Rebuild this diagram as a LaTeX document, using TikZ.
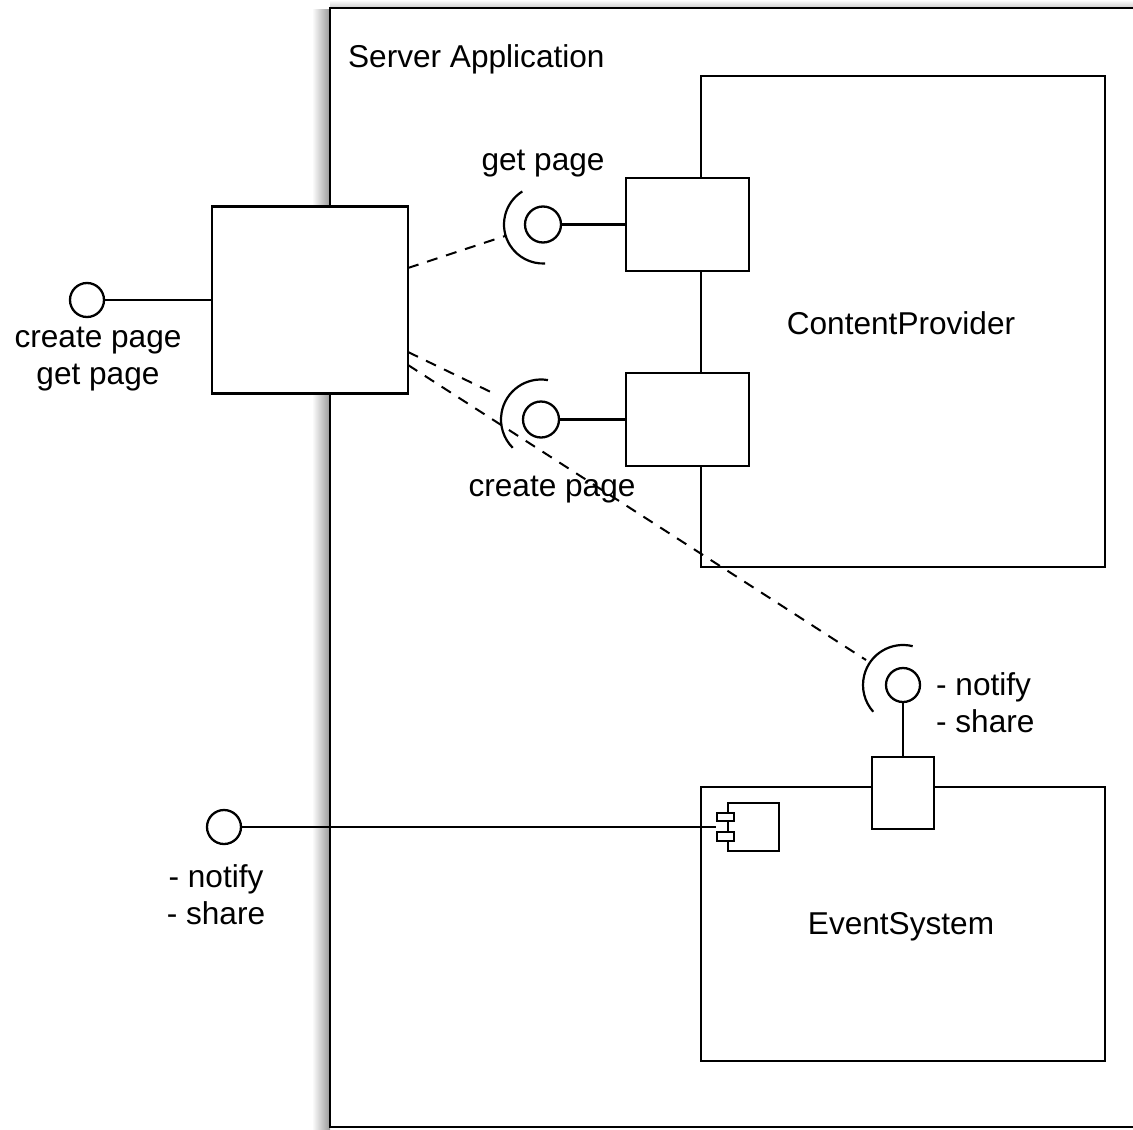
\documentclass[tikz,border=0pt]{standalone}
\usepackage{fontspec}
\setmainfont{Liberation Sans}
\begin{document}
\begin{tikzpicture}[x=0.5pt,y=-0.5pt,
  font=\fontsize{15.8}{18.5}\selectfont,
  line width=1.15pt,
  box/.style={draw, fill=white, rectangle, inner sep=0pt},
  lolly/.style={draw, fill=white, circle, inner sep=0pt, minimum size=17pt},
  lbl/.style={inner sep=0pt, align=center},
  dep/.style={line width=1pt, dash pattern=on 5.5pt off 4.5pt},
  sock/.style={line width=1.1pt}]
\useasboundingbox (0,0) rectangle (1133,1129);
\fill[white] (0,0) rectangle (1133,1129);
% shadow of the application frame
\shade[left color=white, right color=black!40] (312,10) rectangle (330,1129);
\shade[top color=white, bottom color=black!20] (330,0) rectangle (1133,8);
% application frame
\draw[line width=1.4pt] (1140,8) -- (330,8) -- (330,1127) -- (1140,1127);
\node[lbl, anchor=west] (title) at (347,59) {Server Application};

% left port box and lollipop
\node[box, minimum width=98pt, minimum height=93.5pt] (lbox) at (310,300) {};
\node[lolly] (lc) at (87,300) {};
\draw (lc.east) -- (lbox.west);
\node[lbl] (llab) at (98,359) {create page\\get page};

% ContentProvider
\node[box, minimum width=202pt, minimum height=245.5pt] (cp) at (903,321.5) {};
\node[lbl] (cplab) at (901,323) {ContentProvider};
\node[box, minimum width=61.5pt, minimum height=46.5pt] (p1) at (687.5,224.5) {};
\node[box, minimum width=61.5pt, minimum height=46.5pt] (p2) at (687.5,419.5) {};
\node[lolly, minimum size=18pt] (c1) at (543,224.5) {};
\node[lolly, minimum size=18pt] (c2) at (541,419.5) {};
\draw (c1.east) -- (p1.west);
\draw (c2.east) -- (p2.west);
\draw[sock] ([shift={(122:19.5pt)}]c1.center) arc[start angle=122, end angle=273, radius=19.5pt];
\draw[sock] ([shift={(80:20pt)}]c2.center) arc[start angle=80, end angle=225, radius=20pt];
\node[lbl] (gplab) at (543,164) {get page};
\node[lbl] (cplab2) at (552,490) {create page};

% EventSystem
\node[box, minimum width=202pt, minimum height=137pt] (es) at (903,924) {};
\node[lbl] (eslab) at (901,927) {EventSystem};
\node[box, minimum width=31pt, minimum height=36pt] (p3) at (903,793) {};
\node[lolly] (c3) at (903,685) {};
\draw (c3.south) -- (p3.north);
\draw[sock] ([shift={(76:20pt)}]c3.center) arc[start angle=76, end angle=222, radius=20pt];
\node[lbl, anchor=west, align=left] (nlab) at (935,703) {- notify\\- share};

% component icon
\node[box, minimum width=25.5pt, minimum height=24pt] (icon) at (753.5,827) {};
\node[box, minimum width=8.5pt, minimum height=4pt] (tab1) at (725.5,817) {};
\node[box, minimum width=8.5pt, minimum height=4.5pt] (tab2) at (725.5,836.5) {};
\node[lolly] (c4) at (224,827) {};
\draw (c4.east) -- (c4.east -| tab1.west);
\node[lbl] (n2lab) at (216,895) {- notify\\- share};

% dependencies
\coordinate (d1s) at (408,268);
\coordinate (d1e) at (505,236);
\coordinate (d2s) at (408,352);
\coordinate (d2e) at (497,395);
\coordinate (d3s) at (408,365);
\coordinate (d3e) at (866,660);
\draw[dep] (d1s) -- (d1e);
\draw[dep] (d2s) -- (d2e);
\draw[dep] (d3s) -- (d3e);
\end{tikzpicture}
\end{document}
